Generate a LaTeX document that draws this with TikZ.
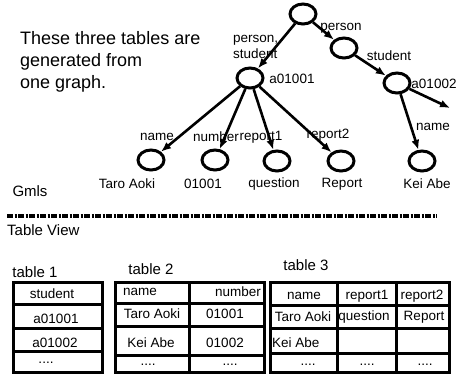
\documentclass[tikz,border=0pt]{standalone}
\usepackage{fontspec}
\setmainfont{Liberation Sans}
\usetikzlibrary{arrows.meta,shapes.geometric}
\tikzset{
	vert/.style={
			draw, ellipse, line width=3pt,
			minimum width=26pt, minimum height=20pt, inner sep=0pt
		},
	link/.style={-{Latex[length=10pt,width=8pt]}, line width=2.6pt},
	lbl/.style={font=\fontsize{13.5}{16}\selectfont, inner sep=0pt},
	head/.style={font=\fontsize{15}{17}\selectfont, inner sep=0pt},
	grid line/.style={line width=3pt}
}

\begin{document}
\begin{tikzpicture}[x=1pt, y=-1pt]
			\useasboundingbox (0, 0) rectangle (457, 376);

			% the graph
			\node[vert] (root)   at (303, 14) {};
			\node[vert] (person) at (344, 48) {};
			\node[vert] (a1)     at (250, 78) {};
			\node[vert] (a2)     at (397, 83) {};
			\node[vert] (taro)   at (151, 160) {};
			\node[vert] (num)    at (215, 160) {};
			\node[vert] (quest)  at (277, 161) {};
			\node[vert] (rep)    at (341, 161) {};
			\node[vert] (kei)    at (422, 161) {};
			\coordinate (open) at (450, 108);

			\draw[link] (root) -- (a1);
			\draw[link] (root) -- (person);
			\draw[link] (person) -- (a2);
			\draw[link] (a1) -- (taro);
			\draw[link] (a1) -- (num);
			\draw[link] (a1) -- (quest);
			\draw[link] (a1) -- (rep);
			\draw[link] (a2) -- (kei);
			\draw[link] (a2) -- (open);

			\node[lbl, anchor=west, align=left] (l-ps) at (233, 47) {person,\\student};
			\node[lbl] (l-person)  at (341, 28) {person};
			\node[lbl] (l-student) at (389, 56) {student};
			\node[lbl] (l-a1)      at (292, 79) {a01001};
			\node[lbl] (l-a2)      at (434, 84) {a01002};
			\node[lbl] (l-name2)   at (433, 127) {name};
			\node[lbl] (l-name1)   at (157, 137) {name};
			\node[lbl] (l-number)  at (216, 137) {number};
			\node[lbl] (l-rep1)    at (261, 137) {report1};
			\node[lbl] (l-rep2)    at (328, 135) {report2};

			\node[lbl] (v-taro)  at (127, 184) {Taro Aoki};
			\node[lbl] (v-num)   at (203, 184) {01001};
			\node[lbl] (v-quest) at (274, 184) {question};
			\node[lbl] (v-rep)   at (342, 184) {Report};
			\node[lbl] (v-kei)   at (427, 184) {Kei Abe};

			\node[font=\fontsize{18}{22}\selectfont, align=left, anchor=north west, inner sep=0pt]
				(note) at (20, 31) {These three tables are\\generated from\\one graph.};
			\node[head] (gmls) at (30, 191) {Gmls};

			% separator
			\draw[line width=3.5pt, dash pattern=on 6pt off 1.5pt on 2pt off 1.5pt] (7, 216) -- (437, 216);
			\node[head, anchor=west] (view) at (7, 230) {Table View};

			% table 1
			\node[head] (t1) at (35, 272) {table 1};
			\draw[grid line] (13, 282) rectangle (102, 372);
			\foreach \y in {304, 328, 351}
				\draw[grid line] (13, \y) -- (102, \y);
			\node[lbl] (t1-h)  at (52, 294) {student};
			\node[lbl] (t1-a)  at (56, 319) {a01001};
			\node[lbl] (t1-b)  at (55, 343) {a01002};
			\node[lbl] (t1-c)  at (46, 363) {....};

			% table 2
			\node[head] (t2) at (151, 269) {table 2};
			\draw[grid line] (115, 282) rectangle (264, 372);
			\draw[grid line] (189, 282) -- (189, 372);
			\foreach \y in {303, 326, 355}
				\draw[grid line] (115, \y) -- (264, \y);
			\node[lbl, anchor=west] (t2-h1) at (123, 292) {name};
			\node[lbl] (t2-h2) at (238, 292) {number};
			\node[lbl] (t2-a1) at (152, 314) {Taro Aoki};
			\node[lbl] (t2-a2) at (225, 314) {01001};
			\node[lbl] (t2-b1) at (151, 343) {Kei Abe};
			\node[lbl] (t2-b2) at (225, 343) {01002};
			\node[lbl] (t2-c1) at (148, 365) {....};
			\node[lbl] (t2-c2) at (230, 365) {....};

			% table 3
			\node[head] (t3) at (306, 265) {table 3};
			\draw[grid line] (270, 282) rectangle (449, 372);
			\foreach \x in {337, 396}
				\draw[grid line] (\x, 282) -- (\x, 372);
			\foreach \y in {305, 328, 353}
				\draw[grid line] (270, \y) -- (449, \y);
			\node[lbl] (t3-h1) at (304, 296) {name};
			\node[lbl] (t3-h2) at (367, 296) {report1};
			\node[lbl] (t3-h3) at (422, 296) {report2};
			\node[lbl] (t3-a1) at (303, 317) {Taro Aoki};
			\node[lbl] (t3-a2) at (364, 317) {question};
			\node[lbl] (t3-a3) at (424, 317) {Report};
			\node[lbl, anchor=west] (t3-b1) at (272, 343) {Kei Abe};
			\node[lbl] (t3-c1) at (308, 365) {....};
			\node[lbl] (t3-c2) at (367, 365) {....};
			\node[lbl] (t3-c3) at (425, 365) {....};
		\end{tikzpicture}
\end{document}
